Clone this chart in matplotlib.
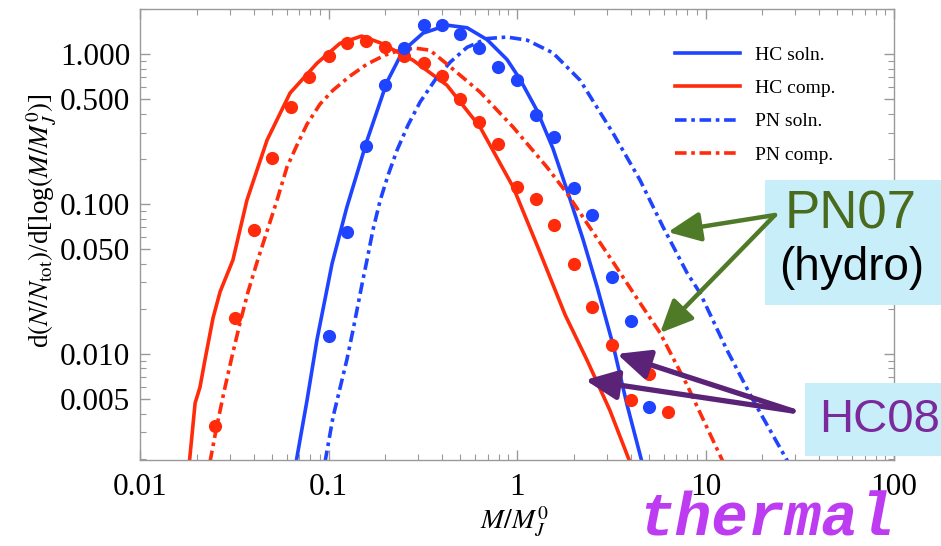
import matplotlib
matplotlib.use("Agg")
import matplotlib.pyplot as plt
from matplotlib.patches import Rectangle
from matplotlib.ticker import FixedLocator, LogLocator, NullFormatter

plt.rcParams['font.family'] = ['Liberation Serif', 'DejaVu Serif']
plt.rcParams['mathtext.fontset'] = 'stix'

# HC08 solutions (solid) and PN07 curves (dash-dot)
hc_soln_x = [0.0673, 0.0769, 0.0869, 0.1044, 0.125, 0.160, 0.204, 0.248, 0.317, 0.425, 0.543,
             0.693, 0.885, 1.037, 1.277, 1.55, 1.91, 2.24, 2.66, 3.23, 3.83, 4.60]
hc_soln_y = [0.0019, 0.0049, 0.0125, 0.040, 0.095, 0.265, 0.65, 1.05, 1.38, 1.56, 1.50,
             1.25, 0.92, 0.68, 0.42, 0.235, 0.108, 0.058, 0.028, 0.0115, 0.0046, 0.0019]

hc_comp_x = [0.0182, 0.0196, 0.0208, 0.0221, 0.0244, 0.0266, 0.0311, 0.0369, 0.0472, 0.0625,
             0.0869, 0.115, 0.150, 0.188, 0.281, 0.425, 0.637, 0.953, 1.32, 1.80, 2.35, 3.11, 3.97]
hc_comp_y = [0.0018, 0.0047, 0.0060, 0.0091, 0.0174, 0.026, 0.0423, 0.106, 0.267, 0.55,
             0.87, 1.18, 1.32, 1.19, 0.91, 0.62, 0.326, 0.13, 0.048, 0.0182, 0.0091, 0.0042, 0.0019]

pn_soln_x = [0.0958, 0.1057, 0.125, 0.135, 0.152, 0.160, 0.172, 0.188, 0.207, 0.231, 0.264,
             0.306, 0.367, 0.442, 0.543, 0.693, 0.885, 1.13, 1.55, 2.16, 3.23, 4.49, 5.95,
             7.98, 9.35, 13.0, 17.9, 27.4]
pn_soln_y = [0.0019, 0.0038, 0.0091, 0.0145, 0.031, 0.0423, 0.0671, 0.106, 0.156, 0.229, 0.336,
             0.479, 0.671, 0.884, 1.11, 1.27, 1.30, 1.24, 1.02, 0.67, 0.297, 0.1445, 0.0703,
             0.0347, 0.0255, 0.0106, 0.0049, 0.0019]

pn_comp_x = [0.0235, 0.0253, 0.0279, 0.0308, 0.0340, 0.0374, 0.0418, 0.0472, 0.0533, 0.0602,
             0.068, 0.0769, 0.0901, 0.1057, 0.130, 0.160, 0.1995, 0.240, 0.288, 0.345, 0.425,
             0.637, 0.953, 1.44, 1.84, 2.66, 3.23, 4.49, 5.74, 7.98, 12.4]
pn_comp_y = [0.0019, 0.0031, 0.0056, 0.0097, 0.0163, 0.0259, 0.0411, 0.066, 0.106, 0.1765,
             0.247, 0.341, 0.464, 0.575, 0.714, 0.858, 0.985, 1.063, 1.096, 1.063, 0.858,
             0.558, 0.326, 0.1765, 0.118, 0.059, 0.041, 0.0219, 0.0138, 0.0062, 0.0019]

# simulation points
sim_comp_x = [0.025, 0.032, 0.040, 0.050, 0.063, 0.079, 0.10, 0.126, 0.158, 0.20, 0.25, 0.32, 0.40,
              0.50, 0.63, 0.79, 1.0, 1.26, 1.58, 2.0, 2.5, 3.2, 4.0, 5.0, 6.3]
sim_comp_y = [0.0033, 0.0174, 0.067, 0.203, 0.443, 0.70, 0.97, 1.18, 1.22, 1.11, 0.97, 0.87, 0.71,
              0.50, 0.35, 0.25, 0.13, 0.108, 0.072, 0.040, 0.0206, 0.0115, 0.0049, 0.0074, 0.0041]

sim_soln_x = [0.10, 0.126, 0.158, 0.20, 0.25, 0.32, 0.40, 0.50, 0.63, 0.79, 1.0, 1.26, 1.58,
              2.0, 2.5, 3.2, 4.0, 5.0]
sim_soln_y = [0.0132, 0.065, 0.244, 0.62, 1.10, 1.56, 1.56, 1.36, 1.10, 0.82, 0.67, 0.39, 0.28,
              0.128, 0.085, 0.0326, 0.0166, 0.0044]

x_ticks = [0.01, 0.1, 1, 10, 100]
x_ticklabels = ['0.01', '0.1', '1', '10', '100']
y_ticks = [0.005, 0.01, 0.05, 0.1, 0.5, 1.0]
y_ticklabels = ['0.005', '0.010', '0.050', '0.100', '0.500', '1.000']

blue = '#1f44ff'
red = '#ff2b0a'
dashdot = (3.2, 1.3, 1.0, 1.3)

fig = plt.figure(figsize=(9.41, 5.46), dpi=100)
ax = fig.add_axes([0.1488, 0.1575, 0.8013, 0.826])

ax.plot(hc_soln_x, hc_soln_y, color=blue, lw=2.6, label='HC soln.')
ax.plot(hc_comp_x, hc_comp_y, color=red, lw=2.6, label='HC comp.')
ax.plot(pn_soln_x, pn_soln_y, color=blue, lw=2.6, dashes=dashdot, label='PN soln.')
ax.plot(pn_comp_x, pn_comp_y, color=red, lw=2.6, dashes=dashdot, label='PN comp.')
ax.plot(sim_comp_x, sim_comp_y, 'o', color=red, ms=9.5, mec='none')
ax.plot(sim_soln_x, sim_soln_y, 'o', color=blue, ms=9.5, mec='none')

ax.set_xscale('log')
ax.set_yscale('log')
ax.set_xlim(0.01, 100)
ax.set_ylim(0.00196, 2.0)

ax.xaxis.set_major_locator(FixedLocator(x_ticks))
ax.set_xticklabels(x_ticklabels)
ax.xaxis.set_minor_locator(LogLocator(base=10, subs=range(2, 10), numticks=20))
ax.xaxis.set_minor_formatter(NullFormatter())
ax.yaxis.set_major_locator(FixedLocator(y_ticks))
ax.set_yticklabels(y_ticklabels)
ax.yaxis.set_minor_locator(LogLocator(base=10, subs=range(2, 10), numticks=20))
ax.yaxis.set_minor_formatter(NullFormatter())

ax.tick_params(which='both', direction='in', top=True, right=True, color='#999999',
               labelsize=22.5, pad=7)
ax.tick_params(axis='x', pad=9)
ax.tick_params(which='major', length=7, width=1)
ax.tick_params(which='minor', length=4, width=0.8)
for sp in ax.spines.values():
    sp.set_color('#999999')
    sp.set_linewidth(1)

ax.set_xlabel(r'$M/M_J^0$', fontsize=20)
ax.xaxis.set_label_coords(0.497, -0.1)
ax.set_ylabel(r'd$(N/N_{\mathrm{tot}})$/d[log$(M/M_J^0)$]', fontsize=19.5)
ax.yaxis.set_label_coords(-0.108, 0.53)

leg = ax.legend(loc='upper left', bbox_to_anchor=(675 / 941, 1 - 46.5 / 546),
                bbox_transform=fig.transFigure, frameon=False, fontsize=14,
                handlelength=3.35, handletextpad=0.77, labelspacing=0.8,
                borderpad=0, borderaxespad=0)

# labelled boxes for the two models
box_color = '#c8eefa'
ax.add_patch(Rectangle((765 / 941, 1 - 305 / 546), 1 - 765 / 941, 125 / 546,
                       transform=fig.transFigure, facecolor=box_color, edgecolor='none',
                       clip_on=False, zorder=5))
ax.add_patch(Rectangle((805 / 941, 1 - 456 / 546), 1 - 805 / 941, 73 / 546,
                       transform=fig.transFigure, facecolor=box_color, edgecolor='none',
                       clip_on=False, zorder=5))

sans = ['Liberation Sans', 'DejaVu Sans']
ax.text(851 / 941, 1 - 215 / 546, 'PN07', transform=fig.transFigure, fontsize=38,
        family=sans, color='#4a6a1e', ha='center', va='center', zorder=6)
ax.text(852 / 941, 1 - 268 / 546, '(hydro)', transform=fig.transFigure, fontsize=33,
        family=sans, color='black', ha='center', va='center', zorder=6)
ax.text(880 / 941, 1 - 420 / 546, 'HC08', transform=fig.transFigure, fontsize=34,
        family=sans, color='#7a2a9a', ha='center', va='center', zorder=6)
ax.text(766 / 941, 1 - 535 / 546, 'thermal', transform=fig.transFigure, fontsize=44,
        family=['Liberation Mono', 'DejaVu Sans Mono'], weight='bold', style='italic',
        color='#bd3cf2', ha='center', va='baseline', zorder=6)

green_arrow = dict(arrowstyle='-|>,head_length=1.1,head_width=0.5', color='#4f7b29',
                   lw=3.2, mutation_scale=18, shrinkA=0, shrinkB=0)
purple_arrow = dict(arrowstyle='-|>,head_length=1.1,head_width=0.5', color='#5a2378',
                    lw=3.8, mutation_scale=18, shrinkA=0, shrinkB=0)
tail_pn = (775 / 941, 1 - 215 / 546)
tail_hc = (793 / 941, 1 - 411 / 546)
for tip in [(6.32, 0.065), (5.74, 0.0138)]:
    ax.annotate('', xy=tip, xycoords='data', xytext=tail_pn, textcoords='figure fraction',
                arrowprops=green_arrow, annotation_clip=False, zorder=7)
for tip in [(3.39, 0.0100), (2.30, 0.0067)]:
    ax.annotate('', xy=tip, xycoords='data', xytext=tail_hc, textcoords='figure fraction',
                arrowprops=purple_arrow, annotation_clip=False, zorder=7)

fig.savefig('out.png', dpi=100)
